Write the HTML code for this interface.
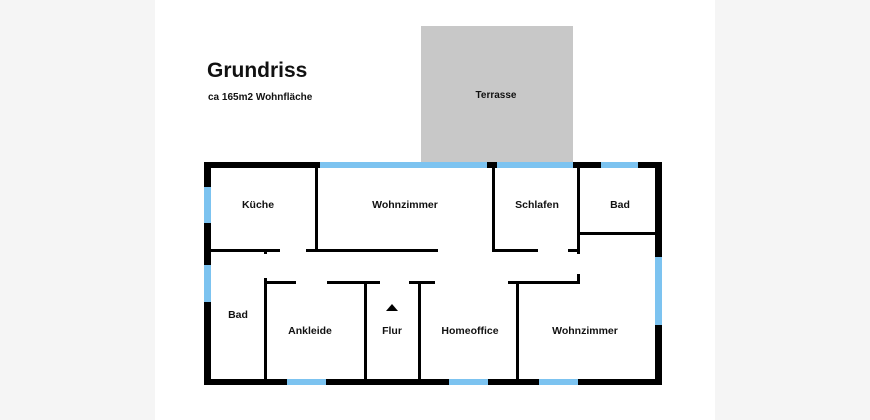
<!DOCTYPE html>
<html><head><meta charset="utf-8"><style>
body{margin:0;background:#f5f5f5;}
svg{display:block}
text{font-family:"Liberation Sans",sans-serif;font-weight:bold;fill:#111}
</style></head><body>
<svg width="870" height="420" viewBox="0 0 870 420" xmlns="http://www.w3.org/2000/svg">
<rect x="0" y="0" width="870" height="420" fill="#f5f5f5"/>
<rect x="155" y="0" width="560" height="420" fill="#fff"/>
<rect x="421" y="26" width="152" height="136" fill="#c8c8c8"/>
<text x="496" y="98" font-size="10" text-anchor="middle" font-weight="normal">Terrasse</text>
<text x="207" y="77" font-size="21">Grundriss</text>
<text x="208" y="100" font-size="10" font-weight="normal">ca 165m2 Wohnfläche</text>
<!-- outer walls -->
<rect x="204" y="162" width="458" height="6" fill="#000"/>
<rect x="204" y="379" width="458" height="6" fill="#000"/>
<rect x="204" y="162" width="7" height="223" fill="#000"/>
<rect x="655" y="162" width="7" height="223" fill="#000"/>
<!-- windows -->
<g fill="#7cc3f0">
<rect x="320" y="162" width="167" height="6"/>
<rect x="497" y="162" width="76" height="6"/>
<rect x="601" y="162" width="37" height="6"/>
<rect x="655" y="257" width="7" height="68"/>
<rect x="287" y="379" width="39" height="6"/>
<rect x="449" y="379" width="39" height="6"/>
<rect x="539" y="379" width="39" height="6"/>
<rect x="204" y="187" width="7" height="36"/>
<rect x="204" y="265" width="7" height="37"/>
</g>
<!-- interior walls -->
<g fill="#000">
<rect x="315" y="168" width="3" height="83"/>
<rect x="211" y="249" width="69" height="3"/>
<rect x="264" y="249" width="3" height="5"/>
<rect x="306" y="249" width="132" height="3"/>
<rect x="492" y="168" width="3" height="83"/>
<rect x="492" y="249" width="46" height="3"/>
<rect x="568" y="249" width="11" height="3"/>
<rect x="577" y="168" width="3" height="86"/>
<rect x="577" y="232" width="78" height="3"/>
<rect x="264" y="281" width="32" height="3"/>
<rect x="264" y="278" width="3" height="101"/>
<rect x="327" y="281" width="53" height="3"/>
<rect x="364" y="281" width="3" height="98"/>
<rect x="409" y="281" width="26" height="3"/>
<rect x="418" y="281" width="3" height="98"/>
<rect x="508" y="281" width="71" height="3"/>
<rect x="577" y="274" width="3" height="10"/>
<rect x="516" y="281" width="3" height="98"/>
<polygon points="386,311 398,311 392,304"/>
</g>
<g font-size="10.5" text-anchor="middle">
<text x="258" y="208">Küche</text>
<text x="405" y="208">Wohnzimmer</text>
<text x="537" y="208">Schlafen</text>
<text x="620" y="208">Bad</text>
<text x="238" y="318">Bad</text>
<text x="310" y="334">Ankleide</text>
<text x="392" y="334">Flur</text>
<text x="470" y="334">Homeoffice</text>
<text x="585" y="334">Wohnzimmer</text>
</g>
</svg>
</body></html>
